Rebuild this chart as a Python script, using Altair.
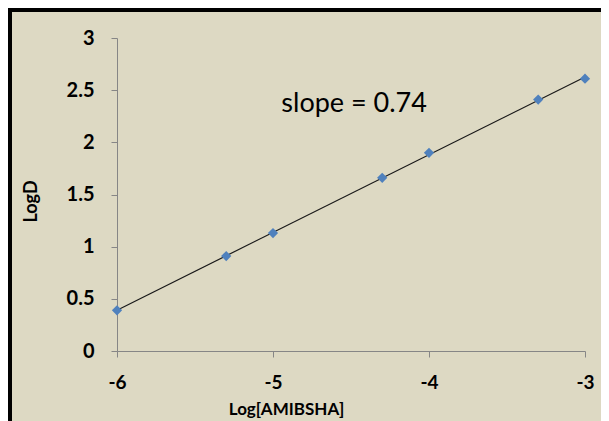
import altair as alt
import pandas as pd

# Data
log_amibsha = [-6.0, -5.3, -5.0, -4.3, -4.0, -3.3, -3.0]
log_d = [0.39, 0.91, 1.13, 1.66, 1.90, 2.41, 2.61]

x_ticks = [-6, -5, -4, -3]
y_ticks = [0, 0.5, 1, 1.5, 2, 2.5, 3]

note_text = ["slope = 0.74"]
note_x = [-4.48]
note_y = [2.37]

df = pd.DataFrame({"x": log_amibsha, "y": log_d})
note_df = pd.DataFrame({"x": note_x, "y": note_y, "t": note_text})

W, H = 468, 313
PAD_L, PAD_T, PAD_R, PAD_B = 109, 30, 16, 70
TOTAL_W = W + PAD_L + PAD_R
TOTAL_H = H + PAD_T + PAD_B

FONT = "Lato"
AXIS_GRAY = "#868686"

x_enc = alt.X(
    "x:Q",
    scale=alt.Scale(domain=[-6, -3], nice=False, zero=False),
    axis=alt.Axis(
        values=x_ticks,
        labelExpr="datum.value + ''",
        title="Log[AMIBSHA]",
        grid=False,
        domainColor=AXIS_GRAY,
        tickColor=AXIS_GRAY,
        tickSize=6,
        labelFont=FONT,
        labelFontSize=19,
        labelFontWeight="bold",
        labelColor="#000000",
        labelPadding=16,
        labelFlush=False,
        titleFont=FONT,
        titleFontSize=17,
        titleFontWeight="bold",
        titleColor="#000000",
        titleX=169,
        titleY=58,
        titleBaseline="middle",
        titleAlign="center",
    ),
)
y_enc = alt.Y(
    "y:Q",
    scale=alt.Scale(domain=[0, 3], nice=False, zero=False),
    axis=alt.Axis(
        values=y_ticks,
        labelExpr="datum.value + ''",
        title="LogD",
        grid=False,
        domainColor=AXIS_GRAY,
        tickColor=AXIS_GRAY,
        tickSize=6,
        labelFont=FONT,
        labelFontSize=20,
        labelFontWeight="bold",
        labelColor="#000000",
        labelPadding=17,
        labelFlush=False,
        titleFont=FONT,
        titleFontSize=18,
        titleFontWeight="bold",
        titleColor="#000000",
        titleAngle=270,
        titleX=-86,
        titleY=163,
        titleBaseline="middle",
        titleAlign="center",
    ),
)

base = alt.Chart(df)

trend = base.transform_regression("x", "y", method="linear", extent=[-6, -3]).mark_line(
    color="#1a1a1a", strokeWidth=1.2
).encode(x=x_enc, y=y_enc)

points = base.mark_point(
    shape="diamond", filled=True, size=105, color="#4F81BD", opacity=1
).encode(x="x:Q", y="y:Q")

note = alt.Chart(note_df).mark_text(
    font=FONT, fontSize=27, color="#000000", align="center", baseline="middle"
).encode(x="x:Q", y="y:Q", text="t:N")

border_left = alt.Chart(df).mark_rule(color="#000000", strokeWidth=4).encode(
    x=alt.value(-PAD_L + 2), y=alt.value(-PAD_T), y2=alt.value(TOTAL_H - PAD_T)
)
border_top = alt.Chart(df).mark_rule(color="#000000", strokeWidth=4).encode(
    y=alt.value(-PAD_T + 2), x=alt.value(-PAD_L), x2=alt.value(TOTAL_W - PAD_L)
)

chart = (
    alt.layer(trend, points, note, border_left, border_top)
    .properties(
        width=W,
        height=H,
        autosize=alt.AutoSizeParams(type="none"),
        padding={"left": PAD_L, "top": PAD_T, "right": PAD_R, "bottom": PAD_B},
        background="#DDD9C3",
    )
    .configure_view(stroke=None)
)

chart.save("out.html", embed_options={"renderer": "svg", "actions": False})
